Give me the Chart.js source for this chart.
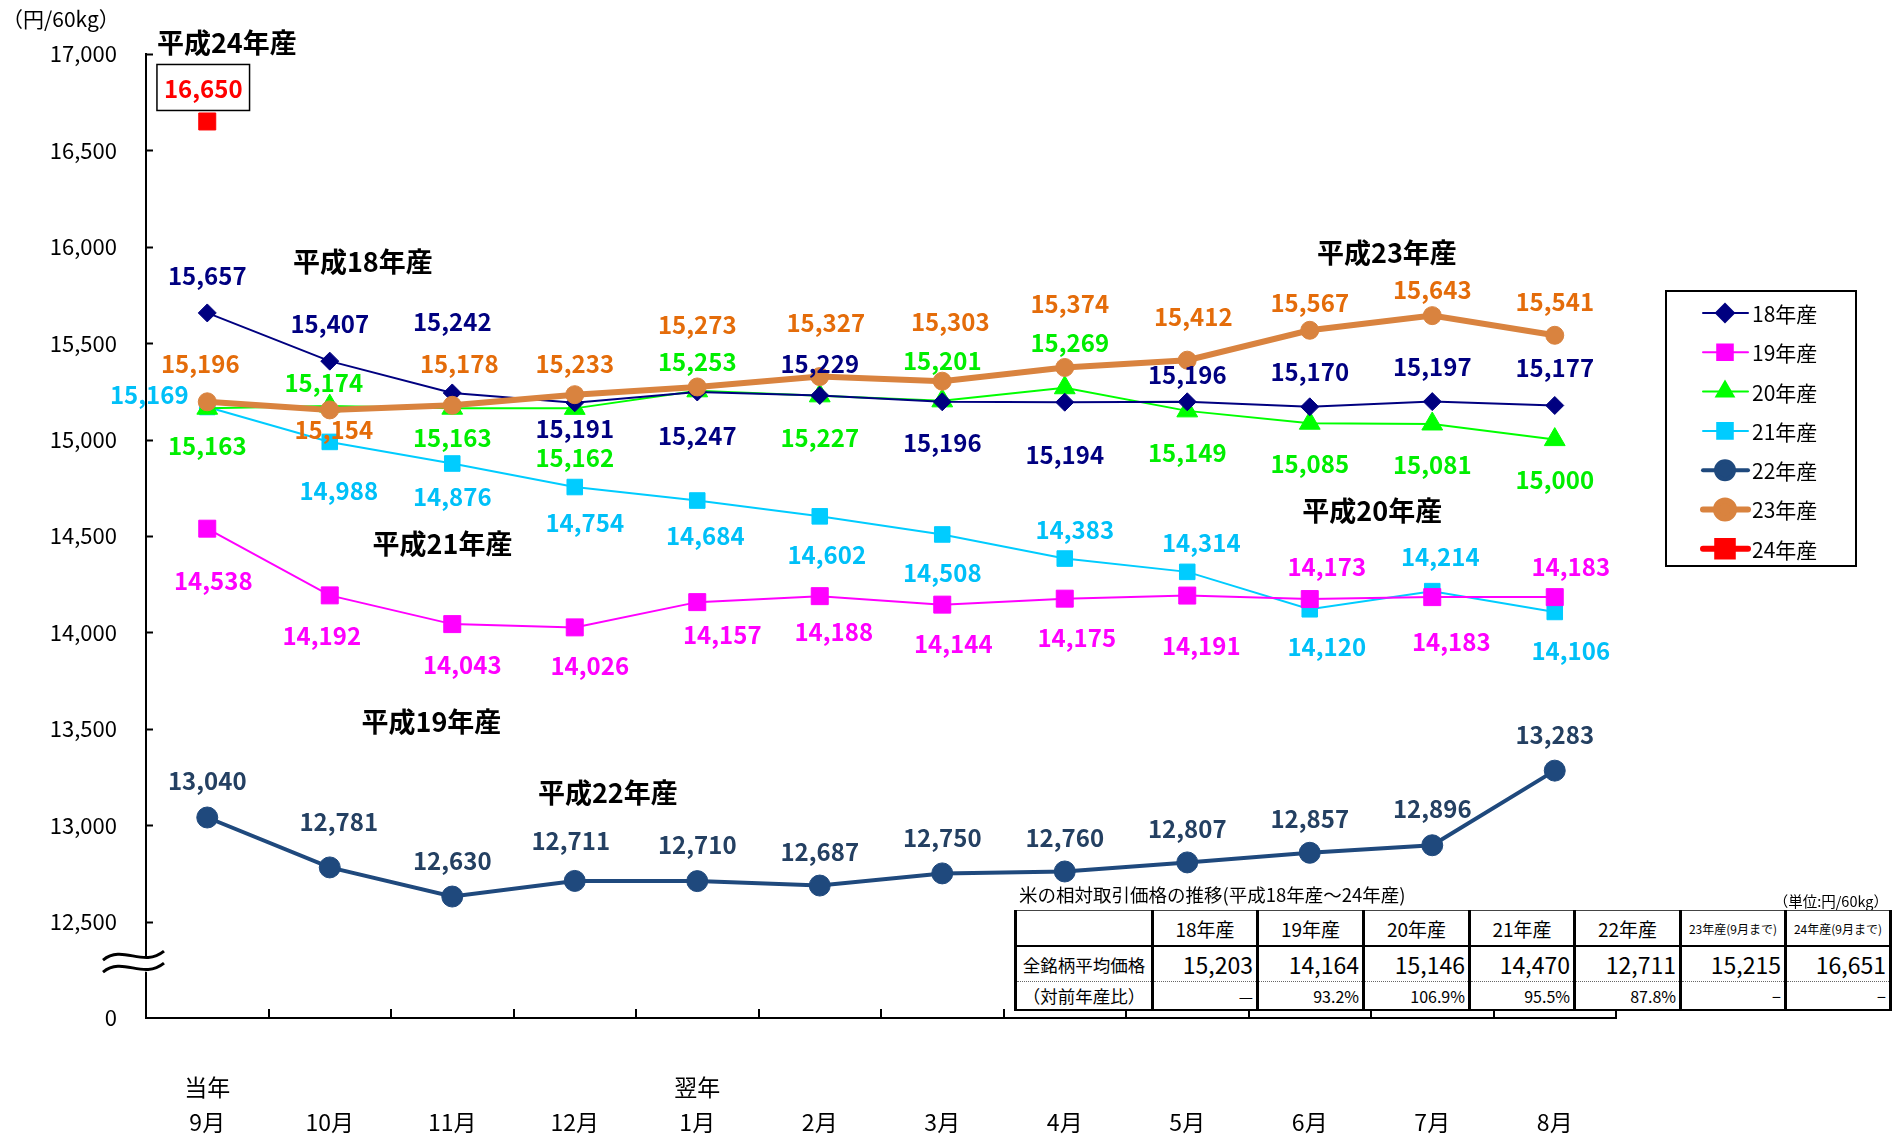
<!DOCTYPE html>
<html>
<head>
<meta charset="utf-8">
<script src="https://cdn.jsdelivr.net/npm/chart.js@4.4.0/dist/chart.umd.min.js"></script>
<style>
  body { margin: 0; background: #fff; font-family: "Noto Sans CJK JP", "Noto Sans", sans-serif; }
  #wrap { position: relative; width: 1894px; height: 1140px; }
  #chart { position: absolute; left: 0; top: 0; }
  #tblTitle { position: absolute; left: 1019px; top: 881px; font-size: 18.5px; color: #000; white-space: nowrap; }
  #tblUnit { position: absolute; right: 6px; top: 890px; font-size: 14.5px; color: #000; white-space: nowrap; }
  #tbl { position: absolute; left: 1014px; top: 910px; width: 875px; border-collapse: collapse; table-layout: fixed; background: #fff; color: #000; }
  #tbl td { padding: 0 3px; white-space: nowrap; overflow: hidden; border-left: 3px solid #000; border-right: 3px solid #000; }
  #tbl tr.head td { height: 34px; font-size: 19px; text-align: center; border-top: 1px solid #444; border-bottom: 2px solid #000; }
  #tbl tr.head td.small { font-size: 12px; padding: 0 1px; }
  #tbl tr.avg td { height: 33px; font-size: 23px; text-align: right; border-bottom: 1px dotted #666; }
  #tbl tr.ratio td { height: 27px; font-size: 16px; text-align: right; border-bottom: 2px solid #000; }
  #tbl tr.avg td.lbl, #tbl tr.ratio td.lbl { text-align: center; font-size: 17.5px; padding: 0; }
</style>
</head>
<body>
<div id="wrap">
  <canvas id="chart" width="1894" height="1140"></canvas>
  <div id="tblTitle">米の相対取引価格の推移(平成18年産～24年産)</div>
  <div id="tblUnit">（単位:円/60kg）</div>
  <table id="tbl"></table>
</div>
<script>
// categories (months) and the year tag above some of them
const months = ['9月', '10月', '11月', '12月', '1月', '2月', '3月', '4月', '5月', '6月', '7月', '8月'];
const yearTags = ['当年', '', '', '', '翌年', '', '', '', '', '', '', ''];

// y axis ticks (broken axis: bottom label is 0)
const yTickValues = [12500, 13000, 13500, 14000, 14500, 15000, 15500, 16000, 16500, 17000];
const yBreakLabel = '0';

// series (円/60kg)
const seriesNames = ['18年産', '19年産', '20年産', '21年産', '22年産', '23年産', '24年産'];
const h18 = [15657, 15407, 15242, 15191, 15247, 15229, 15196, 15194, 15196, 15170, 15197, 15177];
const h19 = [14538, 14192, 14043, 14026, 14157, 14188, 14144, 14175, 14191, 14173, 14183, 14183];
const h20 = [15163, 15174, 15163, 15162, 15253, 15227, 15201, 15269, 15149, 15085, 15081, 15000];
const h21 = [15169, 14988, 14876, 14754, 14684, 14602, 14508, 14383, 14314, 14120, 14214, 14106];
const h22 = [13040, 12781, 12630, 12711, 12710, 12687, 12750, 12760, 12807, 12857, 12896, 13283];
const h23 = [15196, 15154, 15178, 15233, 15273, 15327, 15303, 15374, 15412, 15567, 15643, 15541];
const h24 = [16650];

// summary table
const tableHeads = ['18年産', '19年産', '20年産', '21年産', '22年産', '23年産(9月まで)', '24年産(9月まで)'];
const tableAvg = [15203, 14164, 15146, 14470, 12711, 15215, 16651];
const tableRatio = ['—', '93.2%', '106.9%', '95.5%', '87.8%', '−', '−'];

// series name annotations: [text, category index, value]
const notes = [
  ['平成24年産', 0.16, 17057],
  ['平成18年産', 1.27, 15921],
  ['平成23年産', 9.63, 15968],
  ['平成21年産', 1.92, 14461],
  ['平成20年産', 9.51, 14630],
  ['平成19年産', 1.83, 13535],
  ['平成22年産', 3.27, 13167]
];

// data label offsets (px) from each point
const dx18 = [0, 0, 0, 0, 0, 0, 0, 0, 0, 0, 0, 0];
const dy18 = [-38, -38, -72, 25, 43, -33, 40, 52, -28, -36, -36, -39];
const dx19 = [6, -8, 10, 15, 25, 14, 11, 12, 14, 17, 19, 16];
const dy19 = [51, 39, 40, 37, 32, 35, 38, 38, 49, -33, 44, -31];
const dx20 = [0, -6, 0, 0, 0, 0, 0, 5, 0, 0, 0, 0];
const dy20 = [37, -24, 29, 49, -30, 41, -41, -46, 41, 40, 40, 39];
const dx21 = [-58, 9, 0, 10, 8, 7, 0, 10, 14, 17, 8, 16];
const dy21 = [-13, 48, 32, 35, 34, 38, 37, -30, -30, 37, -35, 38];
const dx22 = [0, 9, 0, -4, 0, 0, 0, 0, 0, 0, 0, 0];
const dy22 = [-38, -47, -37, -41, -37, -35, -37, -35, -35, -35, -37, -37];
const dx23 = [-7, 4, 7, 0, 0, 6, 8, 5, 6, 0, 0, 0];
const dy23 = [-39, 19, -42, -32, -63, -55, -60, -65, -44, -28, -27, -34];
const dx24 = [-4];
const dy24 = [-34];

const FONT = '"Noto Sans CJK JP", "Noto Sans", sans-serif';
const fmt = v => v.toLocaleString('en-US');

// build the table
const tbl = document.getElementById('tbl');
const colW = [137, 105, 106, 106, 105, 106, 105, 105, 104];
let html = '<colgroup>' + colW.map(w => `<col style="width:${w}px">`).join('') + '</colgroup>';
html += '<tr class="head"><td></td>' + tableHeads.map(h => `<td class="${h.length > 4 ? 'small' : ''}">${h}</td>`).join('') + '</tr>';
html += '<tr class="avg"><td class="lbl">全銘柄平均価格</td>' + tableAvg.map(v => `<td>${fmt(v)}</td>`).join('') + '</tr>';
html += '<tr class="ratio"><td class="lbl">（対前年産比）</td>' + tableRatio.map(v => `<td>${v}</td>`).join('') + '</tr>';
tbl.innerHTML = html;

const labelsPlugin = {
    id: 'valueLabels',
    afterDatasetsDraw(chart) {
        const ctx = chart.ctx;
        ctx.save();
        ctx.font = 'bold 24px ' + FONT;
        ctx.textAlign = 'center';
        ctx.textBaseline = 'middle';
        chart.data.datasets.forEach((ds, i) => {
            const meta = chart.getDatasetMeta(i);
            meta.data.forEach((pt, j) => {
                const v = ds.data[j];
                if (v == null) return;
                const x = pt.x + ds.labelDx[j];
                const y = pt.y + ds.labelDy[j];
                const t = fmt(v);
                if (ds.labelBox) {
                    const w = ctx.measureText(t).width + 14;
                    ctx.fillStyle = '#fff';
                    ctx.fillRect(x - w / 2, y - 23, w, 46);
                    ctx.strokeStyle = '#000';
                    ctx.lineWidth = 1.5;
                    ctx.strokeRect(x - w / 2, y - 23, w, 46);
                }
                ctx.fillStyle = ds.labelColor;
                ctx.fillText(t, x, y + 1);
            });
        });
        ctx.restore();
    }
};

const decorPlugin = {
    id: 'decor',
    afterDraw(chart) {
        const ctx = chart.ctx;
        const a = chart.chartArea;
        const xs = chart.scales.x;
        const ys = chart.scales.y;
        ctx.save();
        // inward tick marks
        ctx.strokeStyle = '#000';
        ctx.lineWidth = 2;
        yTickValues.forEach(v => {
            const y = Math.round(ys.getPixelForValue(v)) + 0.5;
            ctx.beginPath(); ctx.moveTo(a.left, y); ctx.lineTo(a.left + 7, y); ctx.stroke();
        });
        const half = (xs.getPixelForValue(1) - xs.getPixelForValue(0)) / 2;
        for (let k = 1; k <= months.length; k++) {
            const x = Math.round(xs.getPixelForValue(k) - half);
            ctx.beginPath(); ctx.moveTo(x, a.bottom); ctx.lineTo(x, a.bottom - 9); ctx.stroke();
        }
        // axis break symbol
        const yc = ys.getPixelForValue(12290);
        const x0 = a.left - 43, x1 = a.left + 18;
        const wave = (off) => {
            ctx.moveTo(x0, yc + off + 4);
            ctx.bezierCurveTo(x0 + 20, yc + off - 12, x0 + 40, yc + off + 12, x1, yc + off - 5);
        };
        ctx.beginPath();
        wave(-6);
        ctx.lineTo(x1, yc + 7);
        ctx.bezierCurveTo(x0 + 40, yc + 18, x0 + 20, yc - 6, x0, yc + 10);
        ctx.closePath();
        ctx.fillStyle = '#fff';
        ctx.fill();
        ctx.lineWidth = 3;
        ctx.beginPath(); wave(-6); ctx.stroke();
        ctx.beginPath(); wave(6); ctx.stroke();

        // unit label
        ctx.fillStyle = '#000';
        ctx.font = '21px ' + FONT;
        ctx.textAlign = 'left';
        ctx.textBaseline = 'middle';
        ctx.fillText('（円/60kg）', 2, 19);

        // series annotations
        ctx.font = 'bold 27px ' + FONT;
        ctx.textAlign = 'center';
        notes.forEach(([t, xi, v]) => {
            ctx.fillText(t, xs.getPixelForValue(xi), ys.getPixelForValue(v));
        });

        // legend box
        const lx = 1666, ly = 291, lw = 190, lh = 275;
        ctx.lineWidth = 2;
        ctx.strokeStyle = '#000';
        ctx.strokeRect(lx, ly, lw, lh);
        ctx.font = '21px ' + FONT;
        ctx.textAlign = 'left';
        chart.data.datasets.forEach((ds, i) => {
            const y = ly + 22 + i * 39.3;
            ctx.strokeStyle = ds.borderColor;
            ctx.lineWidth = ds.borderWidth;
            ctx.lineCap = 'round';
            ctx.beginPath(); ctx.moveTo(lx + 37, y); ctx.lineTo(lx + 82, y); ctx.stroke();
            ctx.fillStyle = ds.pointBackgroundColor;
            ctx.strokeStyle = ds.pointBackgroundColor;
            Chart.helpers.drawPoint(ctx, {
                pointStyle: ds.pointStyle,
                radius: ds.legendRadius,
                rotation: 0,
                borderWidth: 1
            }, lx + 59, y);
            ctx.fillStyle = '#000';
            ctx.fillText(ds.label, lx + 86, y + 1);
        });
        ctx.restore();
    }
};

function series(i, data, color, labelColor, style, radius, width, dx, dy, legendRadius) {
    return {
        label: seriesNames[i],
        data: data,
        borderColor: color,
        backgroundColor: color,
        pointBackgroundColor: color,
        pointBorderColor: color,
        pointStyle: style,
        pointRadius: radius,
        pointBorderWidth: 1,
        borderWidth: width,
        labelColor: labelColor,
        labelDx: dx,
        labelDy: dy,
        legendRadius: legendRadius,
        tension: 0
    };
}

const datasets = [
    series(0, h18, '#000080', '#000080', 'rectRot', 9, 2, dx18, dy18, 9),
    series(1, h19, '#FF00FF', '#FF00FF', 'rect', 12, 2, dx19, dy19, 11),
    series(2, h20, '#00FF00', '#00EE00', 'triangle', 12, 2, dx20, dy20, 10),
    series(3, h21, '#00CCFF', '#00C0F8', 'rect', 11, 2, dx21, dy21, 11),
    series(4, h22, '#1F497D', '#244062', 'circle', 10.5, 4, dx22, dy22, 9),
    series(5, h23, '#D9833F', '#E46C0A', 'circle', 9, 6, dx23, dy23, 9),
    series(6, h24, '#FF0000', '#FF0000', 'rect', 12, 6, dx24, dy24, 11)
];
datasets[5].order = -1;
datasets[6].labelBox = true;

new Chart(document.getElementById('chart'), {
    type: 'line',
    data: {
        labels: months.map((m, i) => [yearTags[i], m]),
        datasets: datasets
    },
    options: {
        responsive: false,
        animation: false,
        layout: { padding: { top: 54, right: 278, left: 0, bottom: 0 } },
        plugins: {
            legend: { display: false },
            tooltip: { enabled: false }
        },
        scales: {
            x: {
                offset: true,
                grid: { display: false, drawTicks: false },
                border: { display: true, color: '#000', width: 2 },
                ticks: {
                    color: '#000',
                    padding: 51,
                    maxRotation: 0,
                    autoSkip: false,
                    font: { family: FONT, size: 23, lineHeight: 1.55 }
                },
                afterFit: (s) => { s.height = 122; }
            },
            y: {
                min: 12000,
                max: 17000,
                afterBuildTicks: (s) => {
                    s.ticks = [{ value: 12000 }].concat(yTickValues.map(v => ({ value: v })));
                },
                grid: { display: false, drawTicks: false },
                border: { display: true, color: '#000', width: 2 },
                ticks: {
                    color: '#000',
                    padding: 29,
                    font: { family: FONT, size: 22 },
                    callback: (v) => v < yTickValues[0] ? yBreakLabel : fmt(v)
                },
                afterFit: (s) => { s.width = 146; }
            }
        }
    },
    plugins: [labelsPlugin, decorPlugin]
});
</script>
</body>
</html>
